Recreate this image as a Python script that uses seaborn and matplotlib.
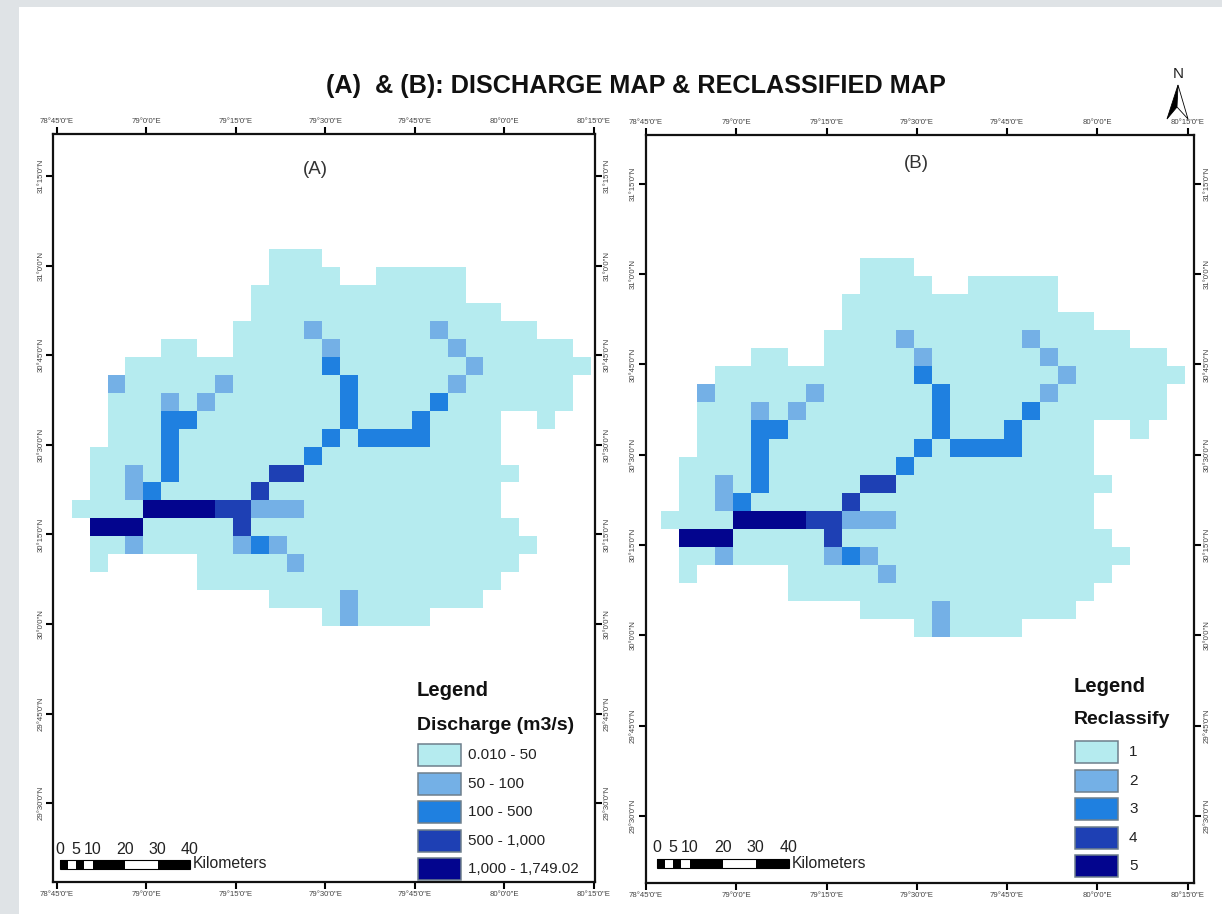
import numpy as np
import pandas as pd
import seaborn as sns
import matplotlib
matplotlib.use('Agg')
import matplotlib.pyplot as plt
from matplotlib.colors import ListedColormap
from matplotlib.patches import Rectangle, Polygon

# Raster classes, one string per row ('.' = no data)
class_rows = [
    "...........111...............",
    "...........1111..11111.......",
    "..........111111111111.......",
    "..........11111111111111.....",
    ".........11112111111211111...",
    ".....11..1111121111112111111.",
    "...11111111111311111112111111",
    "..21111121111113111112111111.",
    "..11121211111113111131111111.",
    "..1113311111111311131111..1..",
    "..1113111111113133331111.....",
    ".11113111111131111111111.....",
    ".112131111144111111111111....",
    ".11231111141111111111111.....",
    "111155554422211111111111.....",
    ".555111114111111111111111....",
    ".1121111123211111111111111...",
    ".1.....111112111111111111....",
    ".......11111111111111111.....",
    "...........111121111111......",
    "..............121111.........",
]

class_colors = ['#B5EBEF', '#74B0E6', '#1F80E0', '#1E40B4', '#03058E']
discharge_labels = ['0.010 - 50', '50 - 100', '100 - 500', '500 - 1,000', '1,000 - 1,749.02']
reclass_labels = ['1', '2', '3', '4', '5']

lon_ticks = [78.75, 79.0, 79.25, 79.5, 79.75, 80.0, 80.25]
lon_labels = ['78°45\'0"E', '79°0\'0"E', '79°15\'0"E', '79°30\'0"E', '79°45\'0"E', '80°0\'0"E', '80°15\'0"E']
lat_ticks = [31.25, 31.0, 30.75, 30.5, 30.25, 30.0, 29.75, 29.5]
lat_labels = ['31°15\'0"N', '31°0\'0"N', '30°45\'0"N', '30°30\'0"N', '30°15\'0"N', '30°0\'0"N', '29°45\'0"N', '29°30\'0"N']

scale_km = [0, 5, 10, 20, 30, 40]
scale_black = [(0, 2.5), (5, 7.5), (10, 20), (30, 40)]

# Grid origin and cell size in degrees
lon0, lat0, cell = 78.792, 31.045, 0.05

W, H = 1222, 914

sns.set_theme(style='white')
plt.rcParams['font.family'] = ['Liberation Sans', 'DejaVu Sans']

grid = pd.DataFrame([[np.nan if c == '.' else int(c) for c in row] for row in class_rows])
cmap = ListedColormap(class_colors)

fig = plt.figure(figsize=(W / 100, H / 100), dpi=100, facecolor='#DFE3E6')
fig.add_artist(Rectangle((19 / W, 0), 1 - 19 / W, 1 - 7 / H, transform=fig.transFigure,
                         facecolor='white', edgecolor='none', zorder=-1))


def draw_map(box, limits):
    left, top, right, bottom = box
    ax = fig.add_axes([left / W, 1 - bottom / H, (right - left) / W, (bottom - top) / H])
    sns.heatmap(grid, mask=grid.isna(), cmap=cmap, vmin=0.5, vmax=5.5, cbar=False,
                xticklabels=False, yticklabels=False, linewidths=0, ax=ax)
    west, east, south, north = limits
    ax.set_xlim((west - lon0) / cell, (east - lon0) / cell)
    ax.set_ylim((lat0 - south) / cell, (lat0 - north) / cell)
    ax.set_xticks([(v - lon0) / cell for v in lon_ticks], lon_labels)
    ax.set_yticks([(lat0 - v) / cell for v in lat_ticks], lat_labels)
    ax.tick_params(axis='both', which='major', length=5, width=1.5, color='black',
                   labelsize=5.6, labelcolor='#444444', pad=1.5,
                   top=True, bottom=True, left=True, right=True,
                   labeltop=True, labelbottom=True, labelleft=True, labelright=True)
    ax.tick_params(axis='y', labelrotation=90)
    for t in ax.yaxis.get_major_ticks():
        t.label1.set_va('center')
        t.label2.set_va('center')
    for s in ax.spines.values():
        s.set_visible(True)
        s.set_color('#111111')
        s.set_linewidth(1.6)
    return ax


ax_a = draw_map((53.3, 134, 594.7, 881.7), (78.7405, 80.2528, 29.281, 31.3672))
ax_b = draw_map((646, 135, 1194.3, 882.7), (78.75, 80.2688, 29.3146, 31.3857))

# Overlay in picture pixels for title, legends, scale bars and north arrow
page = fig.add_axes([0, 0, 1, 1], facecolor='none')
page.set_xlim(0, W)
page.set_ylim(H, 0)
page.axis('off')

page.text(635.5, 86, '(A)  & (B): DISCHARGE MAP & RECLASSIFIED MAP', fontsize=18.2, fontweight='bold',
          ha='center', va='center', color='#111111')
page.text(315, 170, '(A)', fontsize=13.5, ha='center', va='center', color='#333333')
page.text(916, 163, '(B)', fontsize=13.5, ha='center', va='center', color='#333333')


def draw_legend(x, title_y, head, head_y, labels, ys, label_x):
    page.text(x, title_y, 'Legend', fontsize=14.6, fontweight='bold', va='center', color='#111111')
    page.text(x, head_y, head, fontsize=14, fontweight='bold', va='center', color='#111111')
    for color, label, y in zip(class_colors, labels, ys):
        page.add_patch(Rectangle((x + 1, y), 43, 22, facecolor=color, edgecolor='#6E7F8C', linewidth=1.1))
        page.text(label_x, y + 11, label, fontsize=11, va='center', color='#222222')


draw_legend(417, 690, 'Discharge (m3/s)', 725, discharge_labels, [744, 773, 801, 830, 858], 468)
draw_legend(1074, 686, 'Reclassify', 719, reclass_labels, [741, 770, 798, 827, 855], 1129)


def draw_scale(x0, x1, y, text_y):
    per_km = (x1 - x0) / scale_km[-1]
    page.add_patch(Rectangle((x0, y), x1 - x0, 9, facecolor='white', edgecolor='black', linewidth=0.8))
    for a, b in scale_black:
        page.add_patch(Rectangle((x0 + a * per_km, y), (b - a) * per_km, 9, facecolor='black', edgecolor='none'))
    for km in scale_km:
        page.text(x0 + km * per_km, text_y, str(km), fontsize=11.5, ha='center', va='center', color='#222222')
    page.text(x1 + 3, y + 4, 'Kilometers', fontsize=11.3, va='center', color='#222222')


draw_scale(60, 190, 860, 849)
draw_scale(656.5, 788.7, 859, 848)

# North arrow
page.text(1178, 74, 'N', fontsize=11, ha='center', va='center', color='#222222')
page.add_patch(Polygon([(1178, 85), (1167, 119), (1177, 107)], closed=True, facecolor='black', edgecolor='black', linewidth=0.6))
page.add_patch(Polygon([(1178, 85), (1188, 119), (1177, 107)], closed=True, facecolor='white', edgecolor='black', linewidth=0.6))

fig.savefig('out.png', dpi=100, facecolor=fig.get_facecolor())
